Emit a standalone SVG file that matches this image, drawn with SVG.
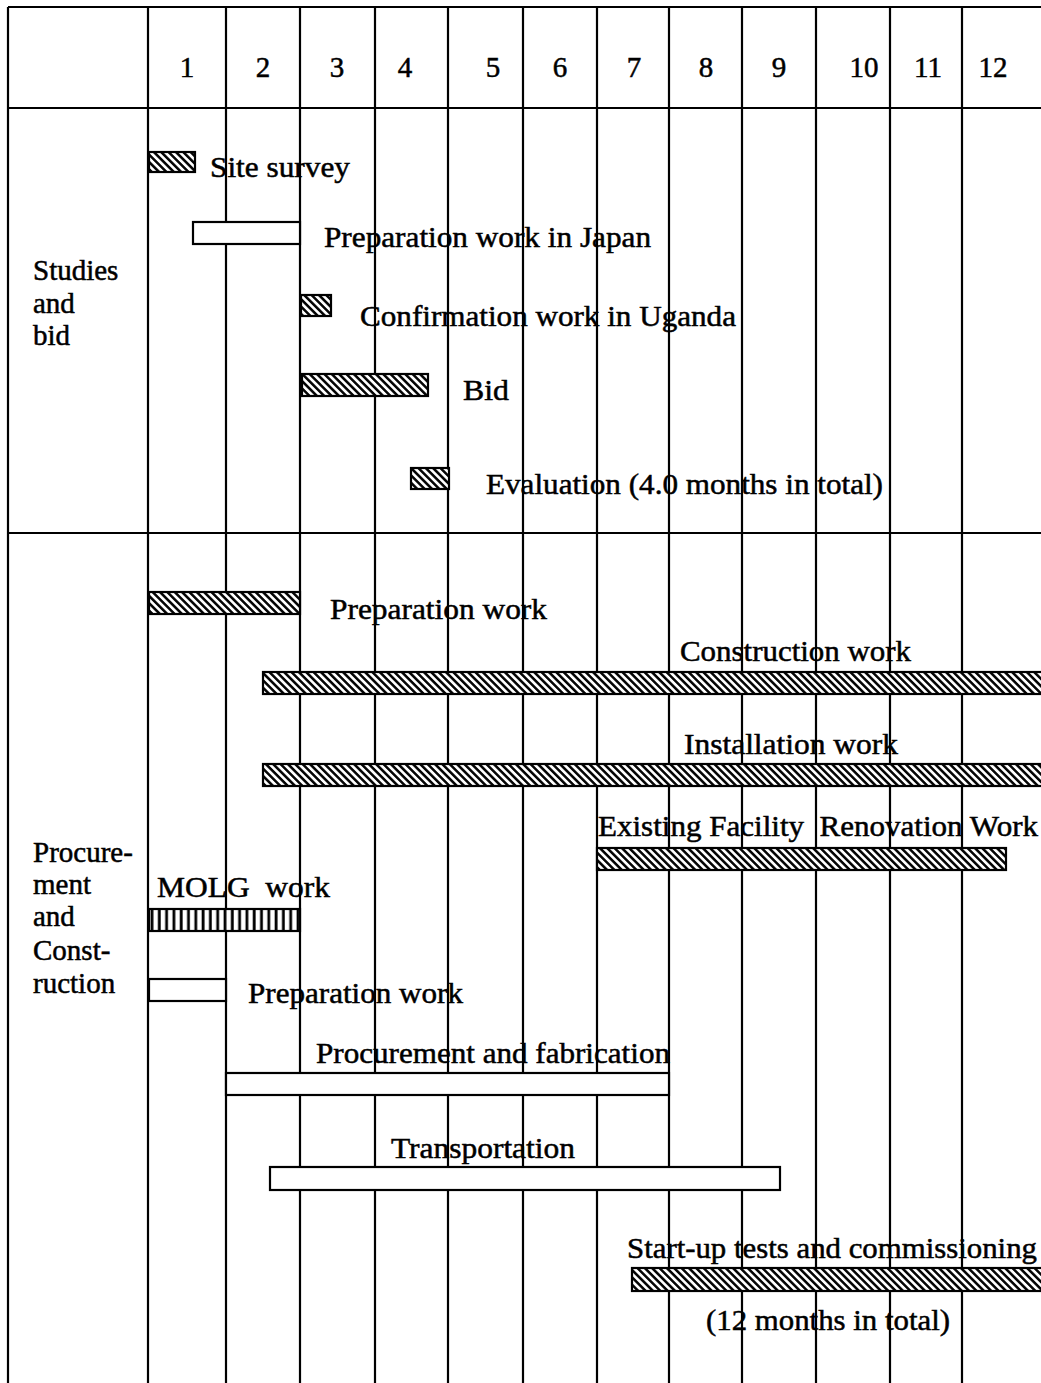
<svg xmlns="http://www.w3.org/2000/svg" width="1041" height="1383" viewBox="0 0 1041 1383">
<style>
  text { font-family: "Liberation Serif", "Times New Roman", serif; font-size: 29px; fill: #000; stroke: #000; stroke-width: 0.5; }
  .hd { text-anchor: middle; }
  .ln { stroke: #000; stroke-width: 2.2; fill: none; }
  .bar { stroke: #000; stroke-width: 2.2; }
  .white { fill: #fff; }
  .hatch { fill: url(#diag); }
  .vhatch { fill: url(#vert); }
</style>
<defs>
  <pattern id="diag" patternUnits="userSpaceOnUse" width="5.2" height="10" patternTransform="rotate(-45)">
    <rect x="0" y="0" width="5.2" height="10" fill="#fff"/>
    <line x1="1.3" y1="0" x2="1.3" y2="10" stroke="#000" stroke-width="2.5"/>
  </pattern>
  <pattern id="vert" patternUnits="userSpaceOnUse" x="150" y="0" width="7.3" height="10">
    <rect x="0" y="0" width="7.3" height="10" fill="#fff"/>
    <line x1="2" y1="0" x2="2" y2="10" stroke="#000" stroke-width="2.8"/>
  </pattern>
</defs>
<rect x="0" y="0" width="1041" height="1383" fill="#fff"/>

<g id="connectors">
  <line class="ln" x1="8" y1="7" x2="1041" y2="7"/>
  <line class="ln" x1="8" y1="108" x2="1041" y2="108"/>
  <line class="ln" x1="8" y1="533" x2="1041" y2="533"/>
  <line class="ln" x1="8" y1="7" x2="8" y2="1383"/>
  <line class="ln" x1="148" y1="7" x2="148" y2="1383"/>
  <line class="ln" x1="226" y1="7" x2="226" y2="1383"/>
  <line class="ln" x1="300" y1="7" x2="300" y2="1383"/>
  <line class="ln" x1="375" y1="7" x2="375" y2="1383"/>
  <line class="ln" x1="448" y1="7" x2="448" y2="1383"/>
  <line class="ln" x1="523" y1="7" x2="523" y2="1383"/>
  <line class="ln" x1="597" y1="7" x2="597" y2="1383"/>
  <line class="ln" x1="669" y1="7" x2="669" y2="1383"/>
  <line class="ln" x1="742" y1="7" x2="742" y2="1383"/>
  <line class="ln" x1="816" y1="7" x2="816" y2="1383"/>
  <line class="ln" x1="890" y1="7" x2="890" y2="1383"/>
  <line class="ln" x1="962" y1="7" x2="962" y2="1383"/>
</g>

<g id="header">
  <text class="hd" x="187" y="77">1</text>
  <text class="hd" x="263" y="77">2</text>
  <text class="hd" x="337" y="77">3</text>
  <text class="hd" x="405" y="77">4</text>
  <text class="hd" x="493" y="77">5</text>
  <text class="hd" x="560" y="77">6</text>
  <text class="hd" x="634" y="77">7</text>
  <text class="hd" x="706" y="77">8</text>
  <text class="hd" x="779" y="77">9</text>
  <text class="hd" x="864" y="77">10</text>
  <text class="hd" x="928" y="77">11</text>
  <text class="hd" x="993" y="77">12</text>
</g>

<g id="section-studies">
  <text x="33" y="280">Studies</text>
  <text x="33" y="313">and</text>
  <text x="33" y="345">bid</text>
</g>
<g id="section-procurement">
  <text x="33" y="862">Procure-</text>
  <text x="33" y="894">ment</text>
  <text x="33" y="926">and</text>
  <text x="33" y="960">Const-</text>
  <text x="33" y="993">ruction</text>
</g>

<g id="site-survey">
  <rect class="bar hatch" x="149" y="152" width="46" height="20"/>
  <text x="210" y="177" textLength="140" lengthAdjust="spacingAndGlyphs">Site survey</text>
</g>
<g id="prep-japan">
  <rect class="bar white" x="193" y="222" width="107" height="22"/>
  <text x="324" y="247" textLength="327" lengthAdjust="spacingAndGlyphs">Preparation work in Japan</text>
</g>
<g id="confirmation">
  <rect class="bar hatch" x="301" y="295" width="30" height="21"/>
  <text x="360" y="326" textLength="376" lengthAdjust="spacingAndGlyphs">Confirmation work in Uganda</text>
</g>
<g id="bid">
  <rect class="bar hatch" x="302" y="374" width="126" height="22"/>
  <text x="463" y="400" textLength="46" lengthAdjust="spacingAndGlyphs">Bid</text>
</g>
<g id="evaluation">
  <rect class="bar hatch" x="411" y="468" width="38" height="21"/>
  <text x="486" y="494" textLength="397" lengthAdjust="spacingAndGlyphs">Evaluation (4.0 months in total)</text>
</g>

<g id="prep-work-1">
  <rect class="bar hatch" x="149" y="592" width="151" height="22"/>
  <text x="330" y="619" textLength="217" lengthAdjust="spacingAndGlyphs">Preparation work</text>
</g>
<g id="construction">
  <rect class="bar hatch" x="263" y="672" width="800" height="22"/>
  <text x="680" y="661" textLength="231" lengthAdjust="spacingAndGlyphs">Construction work</text>
</g>
<g id="installation">
  <rect class="bar hatch" x="263" y="764" width="800" height="22"/>
  <text x="684" y="754" textLength="214" lengthAdjust="spacingAndGlyphs">Installation work</text>
</g>
<g id="existing-facility">
  <rect class="bar hatch" x="597" y="848" width="409" height="22"/>
  <text x="598" y="836" textLength="440" lengthAdjust="spacingAndGlyphs" xml:space="preserve">Existing Facility  Renovation Work</text>
</g>
<g id="molg">
  <rect class="bar vhatch" x="149" y="909" width="151" height="22"/>
  <text x="157" y="897" textLength="173" lengthAdjust="spacingAndGlyphs" xml:space="preserve">MOLG  work</text>
</g>
<g id="prep-work-2">
  <rect class="bar white" x="149" y="979" width="77" height="22"/>
  <text x="248" y="1003" textLength="215" lengthAdjust="spacingAndGlyphs">Preparation work</text>
</g>
<g id="procurement-fabrication">
  <rect class="bar white" x="226" y="1073" width="443" height="22"/>
  <text x="316" y="1063" textLength="354" lengthAdjust="spacingAndGlyphs">Procurement and fabrication</text>
</g>
<g id="transportation">
  <rect class="bar white" x="270" y="1167" width="510" height="23"/>
  <text x="391" y="1158" textLength="184" lengthAdjust="spacingAndGlyphs">Transportation</text>
</g>
<g id="startup">
  <rect class="bar hatch" x="632" y="1268" width="430" height="23"/>
  <text x="627" y="1258" textLength="410" lengthAdjust="spacingAndGlyphs">Start-up tests and commissioning</text>
  <text x="706" y="1330" textLength="244" lengthAdjust="spacingAndGlyphs">(12 months in total)</text>
</g>
</svg>
